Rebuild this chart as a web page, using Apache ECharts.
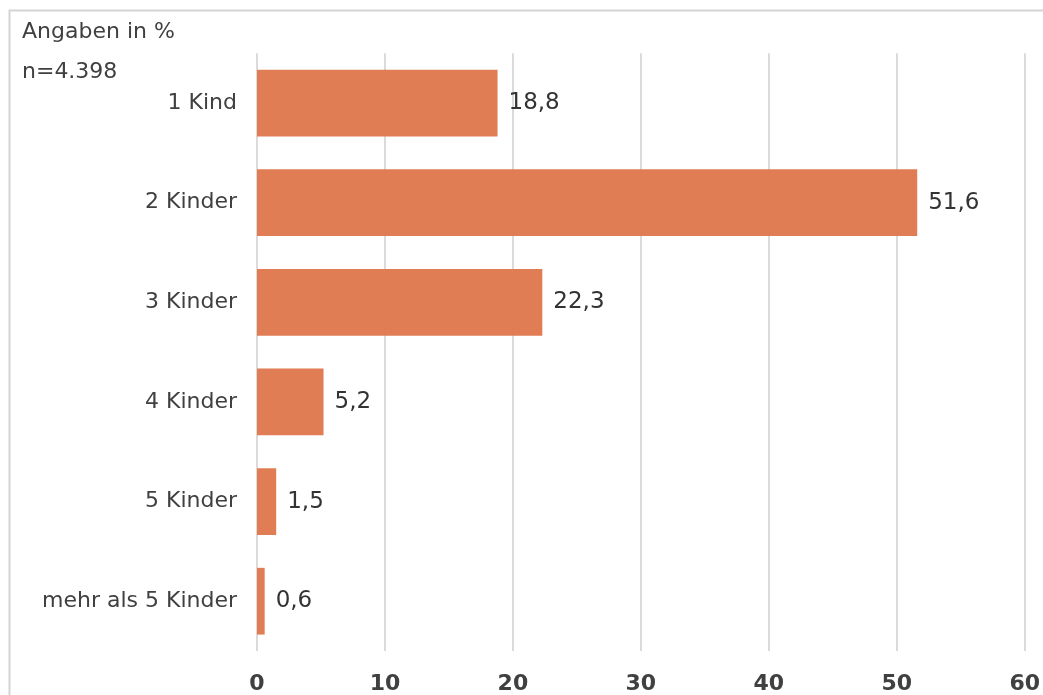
<!DOCTYPE html>
<html><head><meta charset="utf-8">
<script src="https://cdn.jsdelivr.net/npm/echarts@6/dist/echarts.min.js"></script>
<style>html,body{margin:0;padding:0;background:#fff}#c{width:1043px;height:695px}</style>
</head><body><div id="c"></div>
<script>
var categories = ['1 Kind','2 Kinder','3 Kinder','4 Kinder','5 Kinder','mehr als 5 Kinder'];
var values = [18.8, 51.6, 22.3, 5.2, 1.5, 0.6];
var xTicks = [0,10,20,30,40,50,60];
var chart = echarts.init(document.getElementById('c'));
var font = 'DejaVu Sans, Verdana, sans-serif';
chart.setOption({
  animation:false,
  backgroundColor:'#fff',
  graphic:[
    {type:'rect',shape:{x:9.5,y:10.5,width:1100,height:800},style:{fill:'none',stroke:'#d4d4d4',lineWidth:2},silent:true},
    {type:'text',left:22,top:21,style:{text:'Angaben in %',font:'22px '+font,fill:'#404040'}},
    {type:'text',left:22,top:61,style:{text:'n=4.398',font:'22px '+font,fill:'#404040'}}
  ],
  grid:{left:257,right:15.5,top:53.3,bottom:39.3,containLabel:false},
  xAxis:{type:'value',min:0,max:60,interval:10,
    axisLine:{show:false},axisTick:{show:false},
    splitLine:{lineStyle:{color:'#dedada',width:2}},
    axisLabel:{margin:22,fontSize:22,fontWeight:'bold',color:'#404040',fontFamily:font,
      formatter:function(v){return xTicks.indexOf(v)>=0?String(v):'';}}
  },
  yAxis:{type:'category',data:categories,inverse:true,
    axisLine:{show:false},axisTick:{show:false},
    axisLabel:{margin:20,fontSize:22,color:'#404040',fontFamily:font}
  },
  series:[{type:'bar',data:values,barCategoryGap:'33%',
    itemStyle:{color:'#e07d54'},
    label:{show:true,position:'right',distance:11,fontSize:23,color:'#333',fontFamily:font,
      formatter:function(p){return p.value.toFixed(1).replace('.',',');}}
  }]
});
</script></body></html>
